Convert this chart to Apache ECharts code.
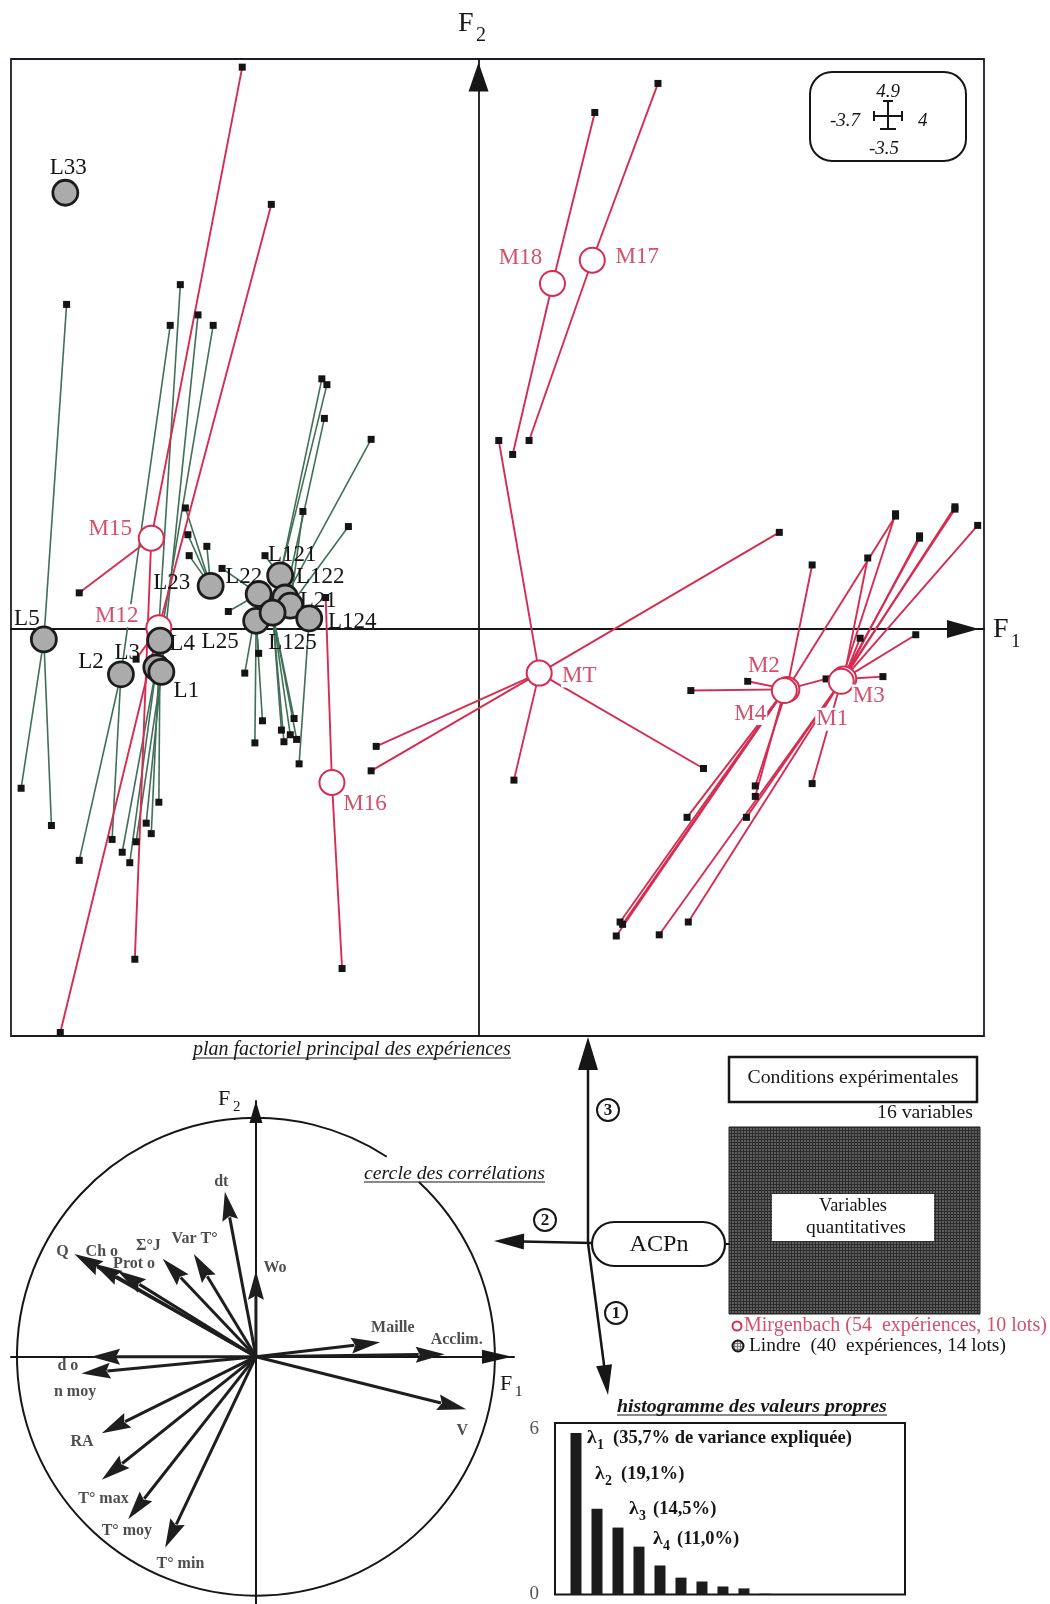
<!DOCTYPE html>
<html><head><meta charset="utf-8">
<script src="https://cdn.jsdelivr.net/npm/echarts@6/dist/echarts.min.js"></script>
<style>html,body{margin:0;padding:0;background:#fff}#c{width:1050px;height:1604px}</style>
</head><body><div id="c"></div><script>
// ---------------- DATA ----------------
// Lindre lots (centres of gravity on the F1/F2 plane)
const lindreLots = ['L33','L5','L2','L3','L1','L4','L23','L22','L121','L122','L21','L124','L25','L125'];
const lindreF1 = [-3.27,-3.44,-2.83,-2.55,-2.51,-2.52,-2.12,-1.74,-1.57,-1.53,-1.49,-1.34,-1.76,-1.63];
const lindreF2 = [3.75,-0.09,-0.39,-0.33,-0.37,-0.10,0.37,0.30,0.46,0.27,0.20,0.09,0.07,0.14];
// Lindre experiments (lot index, F1, F2)
const lindreExpLot = [1,1,1, 2,2,2, 3,3,3, 4,4,4, 5,5,5, 6,6,6,6, 7,7,7, 8,8,8, 9,9, 10,10, 11, 12,12,12, 13,13,13,13,13];
const lindreExpF1 = [-3.26,-3.62,-3.38, -2.44,-3.16,-2.90, -2.36,-2.82,-2.76, -2.22,-2.71,-2.63, -2.10,-2.59,-2.53, -2.32,-2.30,-2.29,-2.15, -2.03,-1.98,-1.85, -1.24,-1.20,-1.69, -1.22,-0.85, -1.03,-1.39, -1.42, -1.74,-1.71,-1.77, -1.56,-1.54,-1.49,-1.44,-1.46];
const lindreExpF2 = [2.79,-1.37,-1.69, 2.61,-1.99,-1.81, 2.96,-1.92,-2.01, 2.70,-1.83,-1.67, 2.61,-1.76,-1.49, 1.04,0.81,0.63,0.71, 0.52,0.15,-0.38, 2.15,2.10,0.63, 1.81,1.63, 0.88,1.01, -1.16, -0.21,-0.79,-0.98, -0.87,-0.97,-0.91,-0.95,-0.77];
// Mirgenbach lots
const mirgLots = ['M15','M12','M16','M17','M18','MT','M2','M4','M3','M1'];
const mirgF1 = [-2.59,-2.53,-1.16,0.90,0.585,0.48,2.44,2.42,2.89,2.87];
const mirgF2 = [0.78,0.01,-1.32,3.17,2.97,-0.38,-0.52,-0.53,-0.43,-0.45];
const mirgExpLot = [0,0,0, 1,1,1, 2,2, 3,3, 4,4, 5,5,5,5,5,5, 6,6,6,6,6,6, 7,7,7,7,7, 8,8,8,8,8,8,8, 9,9,9,9,9,9,9];
const mirgExpF1 = [-1.87,-3.16,-2.72, -1.64,-3.31,-2.71, -1.21,-1.08, 1.42,0.40, 0.92,0.27, 0.16,2.38,1.78,0.28,-0.81,-0.85, 2.64,3.30,2.13,1.68,2.19,2.75, 1.14,1.09,1.65,2.19,1.12, 3.20,3.46,3.02,3.95,3.77,3.08,3.49, 1.43,1.66,2.12,2.64,3.30,3.49,3.77];
const mirgExpF2 = [4.83,0.31,-2.84, 3.65,-3.47,-0.26, 0.27,-2.92, 4.69,1.62, 4.44,1.50, 1.62,0.83,-1.20,-1.30,-1.01,-1.22, 0.55,0.97,-0.45,-0.53,-1.35,-0.43, -2.54,-2.64,-1.62,-1.44,-2.52, -0.41,-0.05,-0.08,0.89,1.05,0.61,0.80, -2.63,-2.52,-1.62,-1.33,0.99,0.78,1.03];
// Correlation circle: 16 variables
const corrVars = ['dt','Wo','Var T°','Σ°J','Prot o','Ch o','Q','Maille','Acclim.','V','d o','n moy','RA','T° max','T° moy','T° min'];
const corrF1 = [-0.13,0.00,-0.26,-0.39,-0.58,-0.68,-0.76,0.52,0.79,0.88,-0.69,-0.73,-0.645,-0.645,-0.535,-0.38];
const corrF2 = [0.69,0.36,0.43,0.41,0.36,0.39,0.43,0.06,0.01,-0.22,0.00,-0.07,-0.32,-0.515,-0.68,-0.80];
// Eigenvalues histogram
const eigenRank = [1,2,3,4,5,6,7,8,9,10,11,12,13,14,15,16];
const eigenValues = [5.84,3.10,2.42,1.73,1.05,0.61,0.47,0.29,0.22,0.03,0,0,0,0,0,0];
const eigenLabels = ['(35,7% de variance expliquée)','(19,1%)','(14,5%)','(11,0%)'];
const eigenTicks = [0,6];

// ---------------- LAYOUT / STYLE ----------------
const lindreLabelOffset = [[3,-25],[-17,-20],[-30,-12],[-29,-14],[25,19],[22,3],[-39,-3],[-15,-17],[12,-20],[35,-21],[28,-5],[43,4],[-36,21],[20,30]];
const mirgLabelOffset = [[-41,-9],[-42,-12],[33,22],[45,-3],[-32,-26],[40,3],[-23,-23],[-34,23],[25,17],[-9,38]];
const corrLabelF1 = [-0.145,0.08,-0.257,-0.45,-0.51,-0.645,-0.81,0.573,0.84,0.864,-0.787,-0.757,-0.728,-0.638,-0.54,-0.316];
const corrLabelF2 = [0.73,0.37,0.495,0.465,0.39,0.44,0.44,0.12,0.07,-0.31,-0.04,-0.149,-0.355,-0.593,-0.731,-0.868];
const lambdaPos = [[587,1438,613],[595,1474,621],[629,1509,653],[653,1539,677]]; // λ x, y, text x

const SERIF = '"Liberation Serif","Times New Roman",serif';
const RED = '#d62c52', RED_TXT = '#d4506d', GREEN = '#407058', INK = '#161616';
const mctx = document.createElement('canvas').getContext('2d');
function fontStr(size, weight, style){ return (style||'normal')+' '+(weight||'normal')+' '+size+'px '+SERIF; }
function tw(text, font){ mctx.font = font; return mctx.measureText(text).width; }
function fit(text, w, weight, style){ return 20 * w / tw(text, fontStr(20, weight, style)); }
function T(x, y, text, size, o){ o = o||{}; return {type:'text', x:x, y:y, silent:true, z:10,
  style:{text:text, font:fontStr(size,o.weight,o.style), fill:o.color||INK, align:o.align||'left', verticalAlign:o.valign||'middle'}}; }
function L(x1,y1,x2,y2,w,c){ return {type:'line', silent:true, z:5, shape:{x1:x1,y1:y1,x2:x2,y2:y2}, style:{stroke:c||INK, lineWidth:w||2}}; }
function arrowEls(x1,y1,x2,y2,len,hw,w,c){
  const dx=x2-x1, dy=y2-y1, l=Math.hypot(dx,dy), ux=dx/l, uy=dy/l, bx=x2-ux*len, by=y2-uy*len;
  return [L(x1,y1,bx+ux*2,by+uy*2,w,c), {type:'polygon', silent:true, z:5, shape:{points:[[x2,y2],[bx-uy*hw,by+ux*hw],[bx+uy*hw,by-ux*hw]]}, style:{fill:c||INK}}];
}
function underlined(x, y, text, w, o){ const size = fit(text, w, o.weight, 'italic');
  return [T(x, y, text, size, {weight:o.weight, style:'italic', align:'left'}), L(x, y+8, x+w, y+8, 1.2)]; }
function makeDots(bg, dot, n){ const c=document.createElement('canvas'); c.width=n; c.height=n; const g=c.getContext('2d');
  g.fillStyle=bg; g.fillRect(0,0,n,n); g.fillStyle=dot; g.fillRect(0,0,2,2); return c; }
const lindreFill = {image: makeDots('#7a7a7a','#e6e6e6',3), repeat:'repeat'};
const darkFill = {image: makeDots('#2c2c2c','#5e5e5e',3), repeat:'repeat'};

// ---------------- BUILD ----------------
const greenLines = lindreExpLot.map((k,i)=>({coords:[[lindreF1[k],lindreF2[k]],[lindreExpF1[i],lindreExpF2[i]]]}));
const redLines = mirgExpLot.map((k,i)=>({coords:[[mirgF1[k],mirgF2[k]],[mirgExpF1[i],mirgExpF2[i]]]}));
const squares = lindreExpF1.map((x,i)=>[x,lindreExpF2[i]]).concat(mirgExpF1.map((x,i)=>[x,mirgExpF2[i]]));
const lindrePts = lindreLots.map((n,i)=>({name:n, value:[lindreF1[i],lindreF2[i]], label:{offset:lindreLabelOffset[i]}}));
const mirgPts = mirgLots.map((n,i)=>({name:n, value:[mirgF1[i],mirgF2[i]], label:{offset:mirgLabelOffset[i]}}));

const graphic = [];
// axis names main plot
graphic.push(T(993,630,'F',28), T(1011,642,'1',19));
graphic.push(T(458,24,'F',28), T(476,36,'2',20));
// inset scale box
graphic.push({type:'rect', silent:true, shape:{x:810,y:72,width:156,height:89,r:22}, style:{fill:'none', stroke:INK, lineWidth:2}});
graphic.push(T(888,92,'4.9',19,{style:'italic',align:'center'}), T(860,121,'-3.7',19,{style:'italic',align:'right'}),
  T(918,121,'4',19,{style:'italic',align:'left'}), T(884,149,'-3.5',19,{style:'italic',align:'center'}));
graphic.push(L(888,101,888,129,2), L(874,116,902,116,2), L(883,101,893,101,2), L(880,129,896,129,2), L(874,111,874,121,2), L(902,111,902,121,2));
// titles
graphic.push(...underlined(193, 1050, 'plan factoriel principal des expériences', 318, {}));
graphic.push(...underlined(364, 1174, 'cercle des corrélations', 181, {}));
graphic.push(...underlined(617, 1407, 'histogramme des valeurs propres', 270, {weight:'bold'}));
// correlation circle axis names
graphic.push(T(500,1384,'F',22), T(515,1392,'1',15));
graphic.push(T(218,1099,'F',22), T(233,1107,'2',15));
// flow diagram
graphic.push(...arrowEls(588,1243,588,1037,33,10,2.5));
graphic.push(...arrowEls(592,1243,494,1241,30,8,2.5));
graphic.push(...arrowEls(588,1243,608,1395,30,8,2.5));
[[608,1110,'3'],[545,1220,'2'],[616,1313,'1']].forEach(c=>{
  graphic.push({type:'circle', silent:true, z:6, shape:{cx:c[0],cy:c[1],r:11}, style:{fill:'#fff', stroke:INK, lineWidth:2}});
  graphic.push(T(c[0],c[1]+1,c[2],17,{align:'center',weight:'bold'}));
});
graphic.push({type:'rect', silent:true, z:6, shape:{x:592,y:1222,width:133,height:44,r:22}, style:{fill:'#fff', stroke:INK, lineWidth:2.2}});
graphic.push(T(659,1245,'ACPn',fit('ACPn',59),{align:'center'}));
graphic.push(L(725,1244,730,1244,2));
graphic.push({type:'rect', silent:true, shape:{x:729,y:1057,width:248,height:45}, style:{fill:'#fff', stroke:INK, lineWidth:2.5}});
graphic.push(T(853,1078,'Conditions expérimentales',fit('Conditions expérimentales',211),{align:'center'}));
graphic.push(T(973,1113,'16 variables',fit('16 variables',96),{align:'right'}));
graphic.push({type:'rect', silent:true, shape:{x:729,y:1127,width:251,height:187}, style:{fill:darkFill, stroke:'#222', lineWidth:1}});
graphic.push({type:'rect', silent:true, z:6, shape:{x:772,y:1194,width:162,height:47}, style:{fill:'#fff', stroke:'none'}});
graphic.push(T(853,1206,'Variables',fit('Variables',68),{align:'center'}), T(856,1228,'quantitatives',fit('quantitatives',100),{align:'center'}));
graphic.push({type:'circle', silent:true, shape:{cx:737,cy:1326,r:4.5}, style:{fill:'#fff', stroke:RED, lineWidth:2}});
graphic.push(T(744,1326,'Mirgenbach (54  expériences, 10 lots)',fit('Mirgenbach (54  expériences, 10 lots)',303),{color:RED_TXT}));
graphic.push({type:'circle', silent:true, shape:{cx:738,cy:1346,r:5.5}, style:{fill:lindreFill, stroke:INK, lineWidth:2}});
graphic.push(T(749,1346,'Lindre  (40  expériences, 14 lots)',fit('Lindre  (40  expériences, 14 lots)',257)));
// histogram labels (λ with subscript rank)
const lamSize = fit(eigenLabels[0], 239, 'bold');
const lamW = tw('λ', fontStr(lamSize+1,'bold'));
eigenLabels.forEach((t,i)=>{ const p = lambdaPos[i];
  graphic.push(T(p[0],p[1],'λ',lamSize+1,{weight:'bold'}), T(p[0]+lamW+0.5,p[1]+7,String(eigenRank[i]),lamSize*0.75,{weight:'bold'}), T(p[2],p[1],t,lamSize,{weight:'bold'}));
});

const hiddenAxis = {axisTick:{show:false}, axisLabel:{show:false}, splitLine:{show:false}};
const option = {
  animation:false, backgroundColor:'#fff',
  grid:[
    {left:11, top:59, width:973, height:977, show:true, borderColor:'#1b1b2b', borderWidth:1.8, backgroundColor:'rgba(0,0,0,0)'},
    {left:11, top:1101, width:503, height:503},
    {left:555, top:1423, width:350, height:172, show:true, borderColor:INK, borderWidth:2, backgroundColor:'rgba(0,0,0,0)'}
  ],
  xAxis:[
    Object.assign({gridIndex:0, type:'value', min:-3.7, max:4, axisLine:{onZero:true, lineStyle:{color:INK,width:1.8}, symbol:['none','triangle'], symbolSize:[18,32], symbolOffset:[0,-21]}}, hiddenAxis),
    Object.assign({gridIndex:1, type:'value', min:-1.025, max:1.08, axisLine:{onZero:true, lineStyle:{color:INK,width:2}, symbol:['none','triangle'], symbolSize:[14,30], symbolOffset:[0,-17]}}, hiddenAxis),
    Object.assign({gridIndex:2, type:'value', min:0, max:16.67, axisLine:{show:false}}, hiddenAxis)
  ],
  yAxis:[
    Object.assign({gridIndex:0, type:'value', min:-3.5, max:4.9, axisLine:{onZero:true, lineStyle:{color:INK,width:1.8}, symbol:['none','triangle'], symbolSize:[20,29], symbolOffset:[0,-18]}}, hiddenAxis),
    Object.assign({gridIndex:1, type:'value', min:-1.035, max:1.07, axisLine:{onZero:true, lineStyle:{color:INK,width:2}, symbol:['none','triangle'], symbolSize:[13,22], symbolOffset:[0,-11]}}, hiddenAxis),
    {gridIndex:2, type:'value', min:eigenTicks[0], max:6.2, interval:eigenTicks[1], axisLine:{show:false}, axisTick:{show:false}, splitLine:{show:false},
      axisLabel:{show:true, margin:16, fontFamily:SERIF, fontSize:19, color:'#555', showMaxLabel:false}}
  ],
  graphic: graphic,
  series:[
    {type:'lines', coordinateSystem:'cartesian2d', xAxisIndex:0, yAxisIndex:0, data:greenLines, symbol:'none', z:2,
      lineStyle:{color:GREEN, width:1.6, opacity:1}, silent:true},
    {type:'lines', coordinateSystem:'cartesian2d', xAxisIndex:0, yAxisIndex:0, data:redLines, symbol:'none', z:2,
      lineStyle:{color:RED, width:1.9, opacity:1}, silent:true},
    {type:'scatter', xAxisIndex:0, yAxisIndex:0, data:squares, symbol:'rect', symbolSize:7, z:3,
      itemStyle:{color:'#141414', opacity:1}, silent:true},
    {type:'scatter', xAxisIndex:0, yAxisIndex:0, data:mirgPts, symbol:'circle', symbolSize:25, z:4, silent:true,
      itemStyle:{color:'#fff', borderColor:RED, borderWidth:2, opacity:1},
      label:{show:true, position:'inside', formatter:'{b}', fontFamily:SERIF, fontSize:23, color:RED_TXT, backgroundColor:'#fff', padding:[0,1], align:'center', verticalAlign:'middle'}},
    {type:'scatter', xAxisIndex:0, yAxisIndex:0, data:lindrePts, symbol:'circle', symbolSize:25, z:5, silent:true,
      itemStyle:{color:'#ababab', borderColor:'#1c1c1c', borderWidth:2.8, opacity:1},
      label:{show:true, position:'inside', formatter:'{b}', fontFamily:SERIF, fontSize:23, color:'#151515', align:'center', verticalAlign:'middle'}},
    {type:'custom', xAxisIndex:1, yAxisIndex:1, data:[[0,0,1]], silent:true, z:2,
      renderItem:function(params, api){
        const c = api.coord([api.value(0), api.value(1)]); const s = api.size([api.value(2), api.value(2)]);
        return {type:'arc', shape:{cx:c[0], cy:c[1], r:(s[0]+s[1])/2, startAngle:-47*Math.PI/180, endAngle:303.2*Math.PI/180, clockwise:true},
          style:{fill:'none', stroke:INK, lineWidth:2}};
      }},
    {type:'custom', xAxisIndex:1, yAxisIndex:1, data:corrF1.map((v,i)=>[v,corrF2[i]]), silent:true, z:3,
      renderItem:function(params, api){
        const o = api.coord([0,0]), t = api.coord([api.value(0), api.value(1)]);
        const dx=t[0]-o[0], dy=t[1]-o[1], l=Math.hypot(dx,dy), ux=dx/l, uy=dy/l;
        const hl=Math.min(29, l*0.4), hw=8, bx=t[0]-ux*hl, by=t[1]-uy*hl;
        return {type:'group', children:[
          {type:'line', shape:{x1:o[0],y1:o[1],x2:bx+ux*3,y2:by+uy*3}, style:{stroke:'#1e1e1e', lineWidth:3}},
          {type:'polygon', shape:{points:[[t[0],t[1]],[bx-uy*hw,by+ux*hw],[bx+ux*4,by+uy*4],[bx+uy*hw,by-ux*hw]]}, style:{fill:'#1e1e1e'}}
        ]};
      }},
    {type:'scatter', xAxisIndex:1, yAxisIndex:1, silent:true, z:4, symbolSize:1, itemStyle:{color:'rgba(0,0,0,0)'},
      data:corrVars.map((n,i)=>({name:n, value:[corrLabelF1[i], corrLabelF2[i]]})),
      label:{show:true, position:'inside', formatter:'{b}', fontFamily:SERIF, fontWeight:'bold', fontSize:16, color:'#222', align:'center', verticalAlign:'middle'}},
    {type:'bar', xAxisIndex:2, yAxisIndex:2, data:eigenValues.map((v,i)=>[eigenRank[i],v]), barWidth:11, silent:true,
      itemStyle:{color:'#1c1c1c'}}
  ]
};
const chart = echarts.init(document.getElementById('c'), null, {renderer:'canvas'});
chart.setOption(option);
</script></body></html>
